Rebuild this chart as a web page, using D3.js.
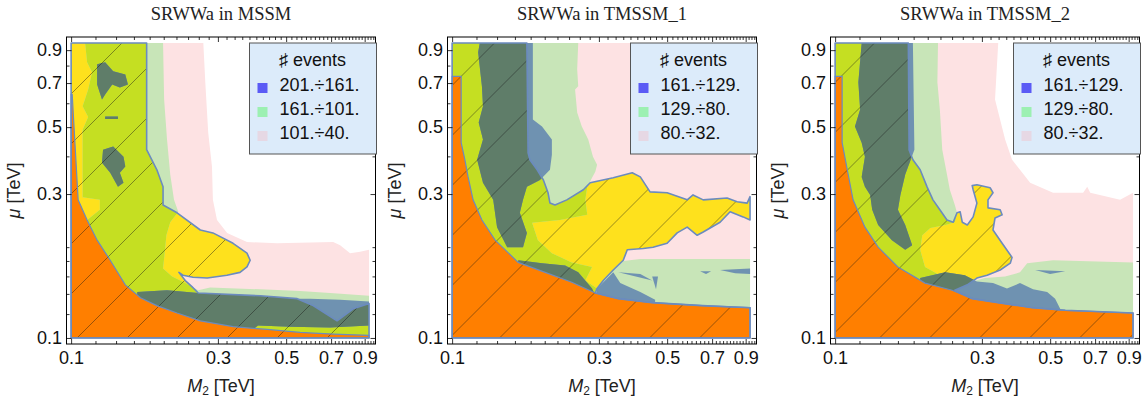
<!DOCTYPE html>
<html><head><meta charset="utf-8">
<script src="https://cdn.jsdelivr.net/npm/d3@7"></script>
<style>body{margin:0;background:#fff}svg{display:block}</style>
</head><body>
<svg id="c" width="1145" height="401"></svg>
<script>
// ---------------- data (M2 [TeV], mu [TeV]) ----------------
const titles = ["SRWWa in MSSM", "SRWWa in TMSSM_1", "SRWWa in TMSSM_2"];
const legendTitle = "\u266F events";
const legendMSSM = ["201.÷161.", "161.÷101.", "101.÷40."];
const legendTMSSM1 = ["161.÷129.", "129.÷80.", "80.÷32."];
const legendTMSSM2 = ["161.÷129.", "129.÷80.", "80.÷32."];
const tickLabels = [0.1, 0.3, 0.5, 0.7, 0.9];
const xMinorTicks = [0.12,0.14,0.16,0.18,0.2,0.22,0.24,0.26,0.28,0.32,0.34,0.36,0.38,0.4,0.42,0.44,0.46,0.48,0.52,0.54,0.56,0.58,0.6,0.62,0.64,0.66,0.68,0.72,0.74,0.76,0.78,0.8,0.82,0.84,0.86,0.88,0.92,0.94,0.96];
const yMinorTicks = [0.12, 0.14, 0.16, 0.18, 0.2, 0.4, 0.6, 0.8];

// MSSM
const mssmPink = [[0.1,0.95],[0.269,0.95],[0.273,0.704],[0.279,0.48],[0.287,0.37],[0.289,0.287],[0.298,0.246],[0.3215,0.223],[0.373,0.208],[0.467,0.206],[0.711,0.208],[0.749,0.203],[0.807,0.191],[0.87,0.193],[0.93,0.196],[0.93,0.1],[0.1,0.1]];
const mssmGreen = [[0.111,0.95],[0.199,0.95],[0.2006,0.618],[0.205,0.455],[0.21,0.348],[0.216,0.287],[0.223,0.262],[0.21,0.242],[0.204,0.219],[0.202,0.196],[0.199,0.17],[0.213,0.16],[0.235,0.152],[0.259,0.144],[0.283,0.147],[0.412,0.145],[0.555,0.143],[0.695,0.141],[0.93,0.138],[0.93,0.1],[0.1,0.1],[0.1,0.246],[0.1127,0.246],[0.124,0.266],[0.124,0.287],[0.109,0.293],[0.109,0.49],[0.1136,0.54],[0.109,0.586],[0.1136,0.667],[0.117,0.76],[0.1127,0.82],[0.111,0.95]];
const mssmBlob1 = [[0.1215,0.808],[0.129,0.82],[0.137,0.766],[0.15,0.748],[0.153,0.693],[0.144,0.677],[0.136,0.693],[0.129,0.642],[0.126,0.618],[0.1215,0.693]];
const mssmDash = [[0.129,0.542],[0.142,0.542],[0.142,0.532],[0.129,0.532]];
const mssmBlob2 = [[0.127,0.421],[0.137,0.431],[0.148,0.399],[0.15,0.37],[0.144,0.353],[0.148,0.327],[0.142,0.317],[0.134,0.353],[0.126,0.381]];
const mssmStrip = [[0.164,0.142],[0.205,0.144],[0.259,0.141],[0.412,0.138],[0.543,0.135],[0.598,0.135],[0.749,0.134],[0.93,0.132],[0.93,0.11],[0.695,0.1084],[0.515,0.109],[0.405,0.11],[0.388,0.106],[0.382,0.1],[0.164,0.1]];
const mssmYellow = [[0.1,0.95],[0.176,0.95],[0.176,0.421],[0.19,0.361],[0.199,0.317],[0.199,0.276],[0.221,0.26],[0.263,0.228],[0.289,0.223],[0.336,0.206],[0.373,0.191],[0.382,0.181],[0.373,0.172],[0.354,0.165],[0.321,0.1615],[0.277,0.158],[0.249,0.159],[0.231,0.1615],[0.224,0.165],[0.235,0.155],[0.247,0.148],[0.259,0.141],[0.412,0.138],[0.543,0.135],[0.612,0.128],[0.732,0.114],[0.826,0.125],[0.93,0.13],[0.93,0.1],[0.1,0.1]];
const mssmOrange = [[0.1,0.1],[0.1,0.642],[0.1008,0.642],[0.1054,0.287],[0.1127,0.246],[0.1215,0.211],[0.134,0.181],[0.15,0.15],[0.168,0.136],[0.19,0.128],[0.221,0.121],[0.263,0.114],[0.336,0.109],[0.434,0.1067],[0.555,0.1043],[0.711,0.103],[0.93,0.102],[0.93,0.1]];

// TMSSM_1
const t1Pink = [[0.1,0.1],[0.1,0.95],[0.93,0.95],[0.93,0.1]];
const t1Green = [[0.1,0.95],[0.257,0.95],[0.255,0.778],[0.257,0.683],[0.251,0.667],[0.255,0.559],[0.264,0.502],[0.277,0.455],[0.287,0.399],[0.296,0.375],[0.292,0.356],[0.285,0.34],[0.275,0.317],[0.271,0.287],[0.275,0.256],[0.224,0.246],[0.182,0.241],[0.19,0.211],[0.211,0.191],[0.245,0.178],[0.285,0.172],[0.271,0.155],[0.296,0.146],[0.31,0.155],[0.334,0.168],[0.36,0.18],[0.409,0.1826],[0.64,0.1826],[0.93,0.1826],[0.93,0.1],[0.1,0.1]];
const t1Column = [[0.123,0.95],[0.183,0.95],[0.183,0.53],[0.196,0.502],[0.211,0.455],[0.211,0.405],[0.208,0.361],[0.193,0.334],[0.175,0.317],[0.17,0.287],[0.166,0.26],[0.175,0.223],[0.17,0.2],[0.151,0.2],[0.14,0.233],[0.136,0.287],[0.126,0.327],[0.1206,0.39],[0.126,0.455],[0.122,0.518],[0.126,0.586],[0.125,0.683],[0.1215,0.886]];
const t1LowPatch = [[0.164,0.181],[0.196,0.177],[0.233,0.174],[0.257,0.165],[0.285,0.146],[0.294,0.136],[0.164,0.133]];
const t1LowSteel = [[0.296,0.146],[0.316,0.156],[0.334,0.165],[0.352,0.152],[0.409,0.142],[0.457,0.134],[0.457,0.127],[0.292,0.127]];
const t1Spot1 = [[0.347,0.165],[0.409,0.163],[0.447,0.155]];
const t1Spot2 = [[0.447,0.16],[0.467,0.16],[0.46,0.145]];
const t1Spot3 = [[0.64,0.1665],[0.695,0.1665],[0.669,0.163]];
const t1Spot4 = [[0.743,0.168],[0.93,0.17],[0.93,0.163],[0.832,0.164]];
const t1Yellow = [[0.1,0.95],[0.175,0.95],[0.1766,0.411],[0.179,0.39],[0.189,0.361],[0.198,0.334],[0.205,0.303],[0.208,0.28],[0.216,0.276],[0.236,0.287],[0.267,0.31],[0.281,0.327],[0.334,0.34],[0.385,0.353],[0.409,0.342],[0.44,0.305],[0.5,0.303],[0.581,0.287],[0.607,0.298],[0.655,0.287],[0.783,0.291],[0.844,0.283],[0.91,0.28],[0.93,0.294],[0.93,0.246],[0.883,0.252],[0.801,0.262],[0.743,0.242],[0.655,0.2245],[0.626,0.219],[0.581,0.233],[0.539,0.223],[0.5,0.206],[0.45,0.2],[0.418,0.198],[0.371,0.196],[0.36,0.181],[0.334,0.168],[0.31,0.155],[0.296,0.146],[0.292,0.141],[0.347,0.135],[0.447,0.131],[0.65,0.128],[0.93,0.126],[0.93,0.1],[0.1,0.1]];
const t1Orange = [[0.1,0.1],[0.1,0.737],[0.107,0.737],[0.107,0.444],[0.11,0.39],[0.1127,0.342],[0.117,0.287],[0.125,0.246],[0.138,0.211],[0.164,0.178],[0.2006,0.165],[0.245,0.153],[0.292,0.141],[0.347,0.135],[0.447,0.131],[0.65,0.128],[0.93,0.126],[0.93,0.1]];

// TMSSM_2
const t2Pink = [[0.1,0.95],[0.339,0.95],[0.331,0.618],[0.357,0.455],[0.376,0.39],[0.399,0.361],[0.4305,0.327],[0.511,0.303],[0.64,0.303],[0.66,0.317],[0.675,0.303],[0.844,0.287],[0.93,0.303],[0.93,0.1],[0.1,0.1]];
const t2Green = [[0.1,0.95],[0.216,0.95],[0.215,0.704],[0.219,0.572],[0.223,0.421],[0.231,0.348],[0.236,0.31],[0.245,0.276],[0.249,0.26],[0.245,0.242],[0.228,0.237],[0.204,0.2315],[0.192,0.219],[0.189,0.196],[0.196,0.172],[0.219,0.1615],[0.245,0.157],[0.279,0.154],[0.307,0.158],[0.357,0.16],[0.399,0.165],[0.421,0.177],[0.511,0.181],[0.93,0.178],[0.93,0.1],[0.1,0.1]];
const t2Column = [[0.122,0.95],[0.179,0.95],[0.181,0.421],[0.169,0.348],[0.163,0.298],[0.16,0.266],[0.169,0.237],[0.178,0.203],[0.169,0.196],[0.153,0.211],[0.138,0.237],[0.132,0.266],[0.13,0.298],[0.125,0.317],[0.122,0.342],[0.125,0.399],[0.122,0.444],[0.116,0.502],[0.1206,0.572],[0.119,0.704]];
const t2Band = [[0.189,0.158],[0.228,0.165],[0.264,0.1615],[0.289,0.154],[0.326,0.152],[0.362,0.146],[0.399,0.152],[0.44,0.145],[0.489,0.142],[0.519,0.135],[0.539,0.125],[0.539,0.116],[0.189,0.116]];
const t2Spot = [[0.447,0.168],[0.56,0.1665],[0.5,0.163]];
const t2Yellow = [[0.1,0.95],[0.173,0.95],[0.174,0.42],[0.179,0.39],[0.189,0.361],[0.199,0.317],[0.208,0.287],[0.219,0.266],[0.231,0.246],[0.242,0.242],[0.249,0.26],[0.255,0.262],[0.259,0.242],[0.269,0.237],[0.281,0.252],[0.289,0.28],[0.281,0.31],[0.279,0.32],[0.289,0.322],[0.319,0.315],[0.326,0.303],[0.314,0.287],[0.314,0.27],[0.344,0.266],[0.349,0.256],[0.331,0.25],[0.326,0.228],[0.349,0.206],[0.376,0.185],[0.371,0.177],[0.344,0.168],[0.312,0.1615],[0.289,0.158],[0.269,0.15],[0.245,0.144],[0.279,0.135],[0.339,0.131],[0.437,0.126],[0.56,0.1235],[0.93,0.121],[0.93,0.1],[0.1,0.1]];
const t2Orange = [[0.1,0.1],[0.1,0.737],[0.1054,0.737],[0.1054,0.444],[0.11,0.353],[0.1144,0.287],[0.125,0.233],[0.138,0.2],[0.16,0.172],[0.196,0.152],[0.24,0.144],[0.279,0.135],[0.339,0.131],[0.437,0.126],[0.56,0.1235],[0.93,0.121],[0.93,0.1]];

const panels = [
  {title: titles[0], legend: legendMSSM, pink: mssmPink, green: mssmGreen, blue: [mssmBlob1, mssmDash, mssmBlob2, mssmStrip], yellow: mssmYellow, orange: mssmOrange},
  {title: titles[1], legend: legendTMSSM1, pink: t1Pink, green: t1Green, blue: [t1Column, t1LowPatch, t1LowSteel, t1Spot1, t1Spot2, t1Spot3, t1Spot4], yellow: t1Yellow, orange: t1Orange},
  {title: titles[2], legend: legendTMSSM2, pink: t2Pink, green: t2Green, blue: [t2Column, t2Band, t2Spot], yellow: t2Yellow, orange: t2Orange}
];

// ---------------- layout / style ----------------
const frameLefts = [66.5, 447.5, 830.5];
const hatchPhase = [15, 37.5, 17.5];
const W = 309, T = 37, B = 344;
const C = {pink:"#fde2e3", yellow:"#fee11d", green:"#c8e5b8", ygreen:"#c5df22", steel:"#6f92b1", dark:"#5f7d69", orange:"#ff7f00", outline:"#6b8bbf"};
const swatch = ["#5b5bf5", "#9cf0b2", "#e6d8e4"];
const sans = "'Liberation Sans', Arial, sans-serif";

const svg = d3.select("#c");
const defs = svg.append("defs");

panels.forEach((p, i) => {
  const L = frameLefts[i];
  const x = d3.scaleLog().domain([0.0966, 0.976]).range([L, L + W]);
  const y = d3.scaleLog().domain([0.0955, 0.995]).range([B, T]);
  const line = d3.line().x(d => x(d[0])).y(d => y(d[1]));
  const P = pts => line(pts) + "Z";

  defs.append("clipPath").attr("id", "cy" + i).append("path").attr("d", P(p.yellow));
  const ch = defs.append("clipPath").attr("id", "ch" + i);
  ch.append("path").attr("d", P(p.yellow));
  ch.append("path").attr("d", P(p.orange));
  const pat = defs.append("pattern").attr("id", "hp" + i).attr("patternUnits", "userSpaceOnUse")
    .attr("x", hatchPhase[i]).attr("y", 0).attr("width", 50).attr("height", 50);
  pat.append("path").attr("d", "M0,50L50,0M-1,1L1,-1M49,51L51,49")
    .attr("stroke", "rgba(20,20,20,0.55)").attr("stroke-width", 0.8).attr("fill", "none");

  const g = svg.append("g");
  g.append("path").attr("d", P(p.pink)).attr("fill", C.pink);
  g.append("path").attr("d", P(p.yellow)).attr("fill", C.yellow);
  g.append("path").attr("d", P(p.green)).attr("fill", C.green);
  g.append("path").attr("d", P(p.green)).attr("fill", C.ygreen).attr("clip-path", `url(#cy${i})`);
  p.blue.forEach(b => g.append("path").attr("d", P(b)).attr("fill", C.steel));
  p.blue.forEach(b => g.append("path").attr("d", P(b)).attr("fill", C.dark).attr("clip-path", `url(#cy${i})`));
  g.append("path").attr("d", P(p.orange)).attr("fill", C.orange);
  g.append("rect").attr("x", L).attr("y", T).attr("width", W).attr("height", B - T)
    .attr("fill", `url(#hp${i})`).attr("clip-path", `url(#ch${i})`);
  g.append("path").attr("d", P(p.orange)).attr("fill", "none").attr("stroke", C.outline).attr("stroke-width", 1.2);
  g.append("path").attr("d", P(p.yellow)).attr("fill", "none").attr("stroke", C.outline).attr("stroke-width", 1.6).attr("stroke-linejoin", "round");

  // axes: inward ticks on all four sides
  const fmt = d3.format(".1f");
  const ticks = (gen, tr, vals, size) => {
    const a = svg.append("g").attr("transform", tr)
      .call(gen.tickValues(vals).tickSizeInner(size).tickSizeOuter(0).tickFormat(() => ""));
    a.select(".domain").remove();
    a.selectAll("line").attr("stroke", "#000").attr("stroke-width", 0.8);
  };
  const bx = svg.append("g").attr("transform", `translate(0,${B})`)
    .call(d3.axisBottom(x).tickValues(tickLabels).tickSizeInner(-5).tickSizeOuter(0).tickPadding(7).tickFormat(fmt));
  bx.select(".domain").remove();
  bx.attr("font-family", sans).attr("font-size", 18);
  bx.selectAll("text").attr("fill", "#111");
  bx.selectAll("line").attr("stroke", "#000").attr("stroke-width", 0.8);
  ticks(d3.axisBottom(x), `translate(0,${B})`, xMinorTicks, -3);
  ticks(d3.axisTop(x), `translate(0,${T})`, tickLabels, -5);
  ticks(d3.axisTop(x), `translate(0,${T})`, xMinorTicks, -3);
  const ly = svg.append("g").attr("transform", `translate(${L},0)`)
    .call(d3.axisLeft(y).tickValues(tickLabels).tickSizeInner(-5).tickSizeOuter(0).tickPadding(4.5).tickFormat(fmt));
  ly.select(".domain").remove();
  ly.attr("font-family", sans).attr("font-size", 18);
  ly.selectAll("text").attr("fill", "#111");
  ly.selectAll("line").attr("stroke", "#000").attr("stroke-width", 0.8);
  ticks(d3.axisLeft(y), `translate(${L},0)`, yMinorTicks, -3);
  ticks(d3.axisRight(y), `translate(${L + W},0)`, tickLabels, -5);
  ticks(d3.axisRight(y), `translate(${L + W},0)`, yMinorTicks, -3);

  svg.append("rect").attr("x", L).attr("y", T).attr("width", W).attr("height", B - T)
    .attr("fill", "none").attr("stroke", "#000").attr("stroke-width", 1);

  // title
  svg.append("text").attr("x", L + W / 2).attr("y", 20).attr("text-anchor", "middle")
    .attr("font-family", "'Liberation Serif', 'Times New Roman', serif").attr("font-size", 18.5).attr("fill", "#222").text(p.title);
  // x label
  const xl = svg.append("text").attr("x", L + W / 2).attr("y", 392).attr("text-anchor", "middle")
    .attr("font-family", sans).attr("font-size", 18).attr("fill", "#222");
  xl.append("tspan").attr("font-style", "italic").text("M");
  xl.append("tspan").attr("font-size", 12).attr("dy", 3).text("2");
  xl.append("tspan").attr("dy", -3).text(" [TeV]");
  // y label
  const yl = svg.append("text").attr("transform", `translate(${L - 47},${(T + B) / 2}) rotate(-90)`).attr("text-anchor", "middle")
    .attr("font-family", sans).attr("font-size", 18).attr("fill", "#222");
  yl.append("tspan").attr("font-style", "italic").text("\u03BC");
  yl.append("tspan").text(" [TeV]");

  // legend
  const lx = L + W - 126, ly0 = 43;
  const lg = svg.append("g");
  lg.append("rect").attr("x", lx).attr("y", ly0).attr("width", 127).attr("height", 111)
    .attr("fill", "#dcebfa").attr("stroke", "#555").attr("stroke-width", 1);
  lg.append("text").attr("x", lx + 63).attr("y", ly0 + 23).attr("text-anchor", "middle")
    .attr("font-family", sans).attr("font-size", 18).attr("fill", "#111").text(legendTitle);
  p.legend.forEach((t, k) => {
    lg.append("rect").attr("x", lx + 8).attr("y", ly0 + 40 + k * 24).attr("width", 10).attr("height", 10).attr("fill", swatch[k]);
    lg.append("text").attr("x", lx + 30).attr("y", ly0 + 48 + k * 24).attr("font-family", sans).attr("font-size", 18).attr("fill", "#111").text(t);
  });
});
</script>
</body></html>
